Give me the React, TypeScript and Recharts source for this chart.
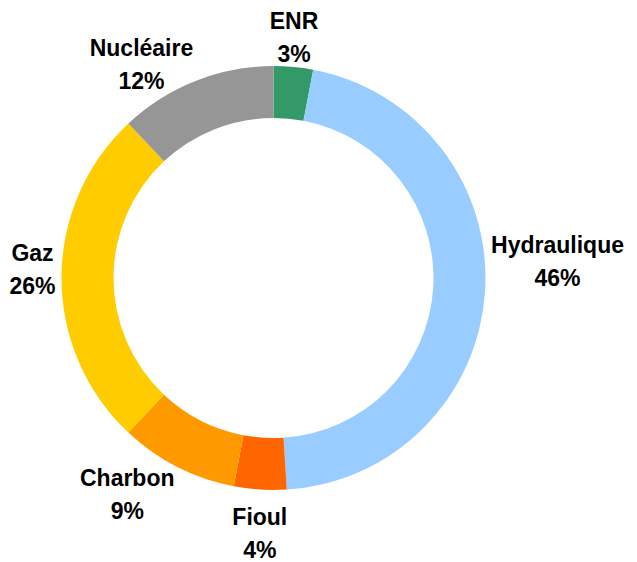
import React from "react";
import { PieChart, Pie, Cell } from "recharts";

// Energy mix shares (%), clockwise from 12 o'clock
const SOURCES = ["ENR", "Hydraulique", "Fioul", "Charbon", "Gaz", "Nucléaire"];
const SHARES = [3, 46, 4, 9, 26, 12];

const COLORS = ["#339966", "#99CCFF", "#FF6600", "#FF9900", "#FFCC00", "#969696"];

// small vertical nudges so labels sit where the original placed them
const LABEL_DY: Record<string, number> = {
    Hydraulique: -32,
    Fioul: 13,
    Gaz: -9,
    Nucléaire: 11,
};

const RAD = Math.PI / 180;
const FONT = "'Liberation Sans', Arial, sans-serif";
const FONT_SIZE = 23;

let ctx: CanvasRenderingContext2D | null = null;
const measure = (s: string) => {
    if (!ctx) ctx = document.createElement("canvas").getContext("2d");
    if (!ctx) return s.length * FONT_SIZE * 0.6;
    ctx.font = `bold ${FONT_SIZE}px ${FONT}`;
    return ctx.measureText(s).width;
};

const renderLabel = (props: any) => {
    const { cx, cy, midAngle, outerRadius, index } = props;
    const r = outerRadius + 6;
    const cos = Math.cos(-midAngle * RAD);
    const sin = Math.sin(-midAngle * RAD);
    const px = cx + r * cos;
    const py = cy + r * sin;
    const name = SOURCES[index];
    const pct = `${SHARES[index]}%`;
    const w = Math.max(measure(name), measure(pct));
    // lines are centred inside the block; block hugs the ring
    const bx = cos > 0.3 ? px + w / 2 : cos < -0.3 ? px - w / 2 : px;
    const yc = py + (-Math.sin(midAngle * RAD)) * 24 + (LABEL_DY[name] || 0);
    return (
        <text
            x={bx}
            y={yc - 8}
            textAnchor="middle"
            fontFamily={FONT}
            fontWeight="bold"
            fontSize={FONT_SIZE}
            fill="#000"
        >
            <tspan x={bx}>{name}</tspan>
            <tspan x={bx} dy={33}>{pct}</tspan>
        </text>
    );
};

export default function App() {
    const data = SOURCES.map((name, i) => ({ name, value: SHARES[i] }));

    return (
        <div style={{ position: "absolute", left: 0, top: 0, background: "#fff" }}>
            <PieChart width={637} height={562} margin={{ top: 0, right: 0, bottom: 0, left: 0 }}>
                <Pie
                    data={data}
                    dataKey="value"
                    cx={273.5}
                    cy={278}
                    startAngle={90}
                    endAngle={-270}
                    innerRadius={160}
                    outerRadius={212}
                    stroke="none"
                    label={renderLabel}
                    labelLine={false}
                    isAnimationActive={false}
                >
                    {data.map((entry, i) => (
                        <Cell key={`cell-${i}`} fill={COLORS[i]} />
                    ))}
                </Pie>
            </PieChart>
        </div>
    );
}
